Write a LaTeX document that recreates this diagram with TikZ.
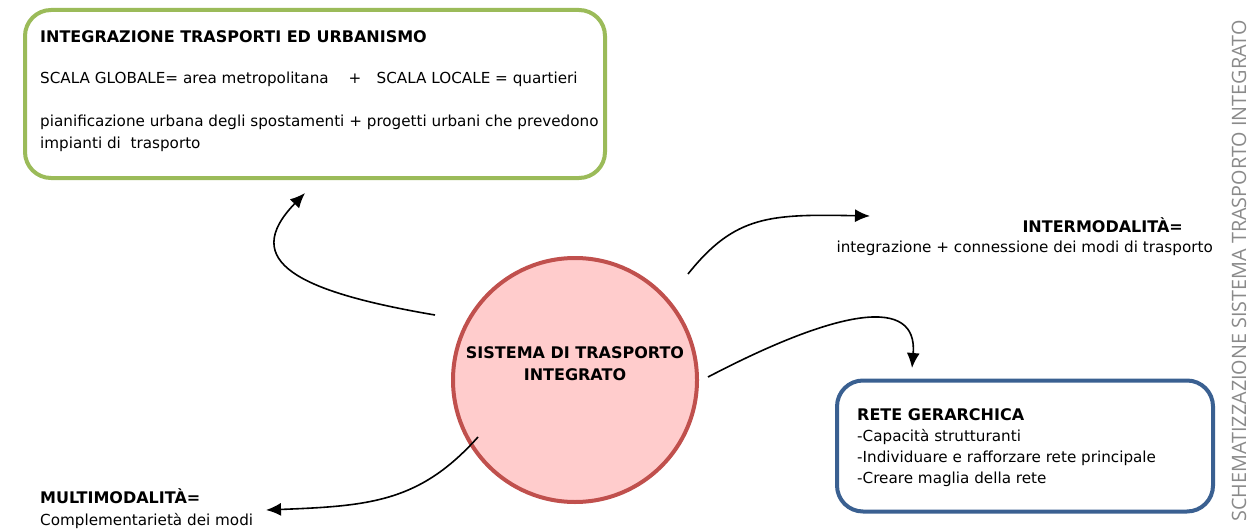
\documentclass[tikz,border=0pt]{standalone}
\usepackage{fontspec}
\setmainfont{DejaVu Sans}
\newfontfamily\sidefont{Open Sans}
\usetikzlibrary{arrows.meta}
\definecolor{boxgreen}{HTML}{9BBB59}
\definecolor{boxblue}{HTML}{3A6091}
\definecolor{ringred}{HTML}{C0504D}
\definecolor{ringfill}{HTML}{FFCCCC}
\definecolor{sidegray}{HTML}{8A8A8A}
\tikzset{
  panel/.style={line width=4pt, rounded corners=26pt, fill=white},
  txt/.style={inner sep=0pt, anchor=base west, font=\fontsize{15.2}{17}\selectfont},
  head/.style={txt, font=\fontsize{16}{18}\selectfont\bfseries},
  link/.style={line width=1.6pt, -{Latex[length=15pt,width=13pt]}},
}
\begin{document}
\begin{tikzpicture}[x=1pt,y=-1pt]
\useasboundingbox (0,0) rectangle (1249,532);

% urban integration panel
\node[panel, draw=boxgreen, minimum width=580pt, minimum height=168pt] (urb) at (315,94) {};
\node[head] (urbT) at (40,43) {INTEGRAZIONE TRASPORTI ED URBANISMO};
\node[txt] (urb1) at (40,84) {SCALA GLOBALE= area metropolitana \quad+\quad SCALA LOCALE = quartieri};
\node[txt] (urb2) at (40,127) {pianificazione urbana degli spostamenti + progetti urbani che prevedono};
\node[txt] (urb3) at (40,148) {impianti di\ \ trasporto};

% central system
\node[circle, draw=ringred, fill=ringfill, line width=4pt, minimum size=244pt] (sys) at (575,380) {};
\node[head, anchor=base] (sys1) at (575,358) {SISTEMA DI TRASPORTO};
\node[head, anchor=base] (sys2) at (575,380) {INTEGRATO};

% intermodality
\node[head, anchor=base east] (intT) at (1183,232) {INTERMODALITÀ=};
\node[txt, anchor=base east] (int1) at (1213,252) {integrazione + connessione dei modi di trasporto};

% hierarchical network panel
\node[panel, draw=boxblue, minimum width=376pt, minimum height=131pt] (net) at (1025,446) {};
\node[head] (netT) at (857,420) {RETE GERARCHICA};
\node[txt] (net1) at (857,441) {-Capacità strutturanti};
\node[txt] (net2) at (857,462) {-Individuare e rafforzare rete principale};
\node[txt] (net3) at (857,483) {-Creare maglia della rete};

% multimodality
\node[head] (mulT) at (40,503) {MULTIMODALITÀ=};
\node[txt] (mul1) at (40,525) {Complementarietà dei modi};

% side caption
\node[inner sep=0pt, rotate=90, anchor=base, text=sidegray, font=\sidefont\fontsize{19.8}{22}\selectfont] (side) at (1246,271) {SCHEMATIZZAZIONE SISTEMA TRASPORTO INTEGRATO};

% connector ends
\coordinate (aUrb) at (435,315);
\coordinate (tUrb) at (305,193);
\coordinate (aInt) at (688,274);
\coordinate (tInt) at (870,216);
\coordinate (aNet) at (708,377);
\coordinate (tNet) at (912,368);
\coordinate (aMul) at (478,437);
\coordinate (tMul) at (266,510);

\draw[link] (aUrb) .. controls (300,292) and (238,262) .. (tUrb);
\draw[link] (aInt) .. controls (735,215) and (770,214) .. (tInt);
\draw[link] (aNet) .. controls (840,308) and (918,296) .. (tNet);
\draw[link] (aMul) .. controls (420,502) and (370,506) .. (tMul);
\end{tikzpicture}
\end{document}
